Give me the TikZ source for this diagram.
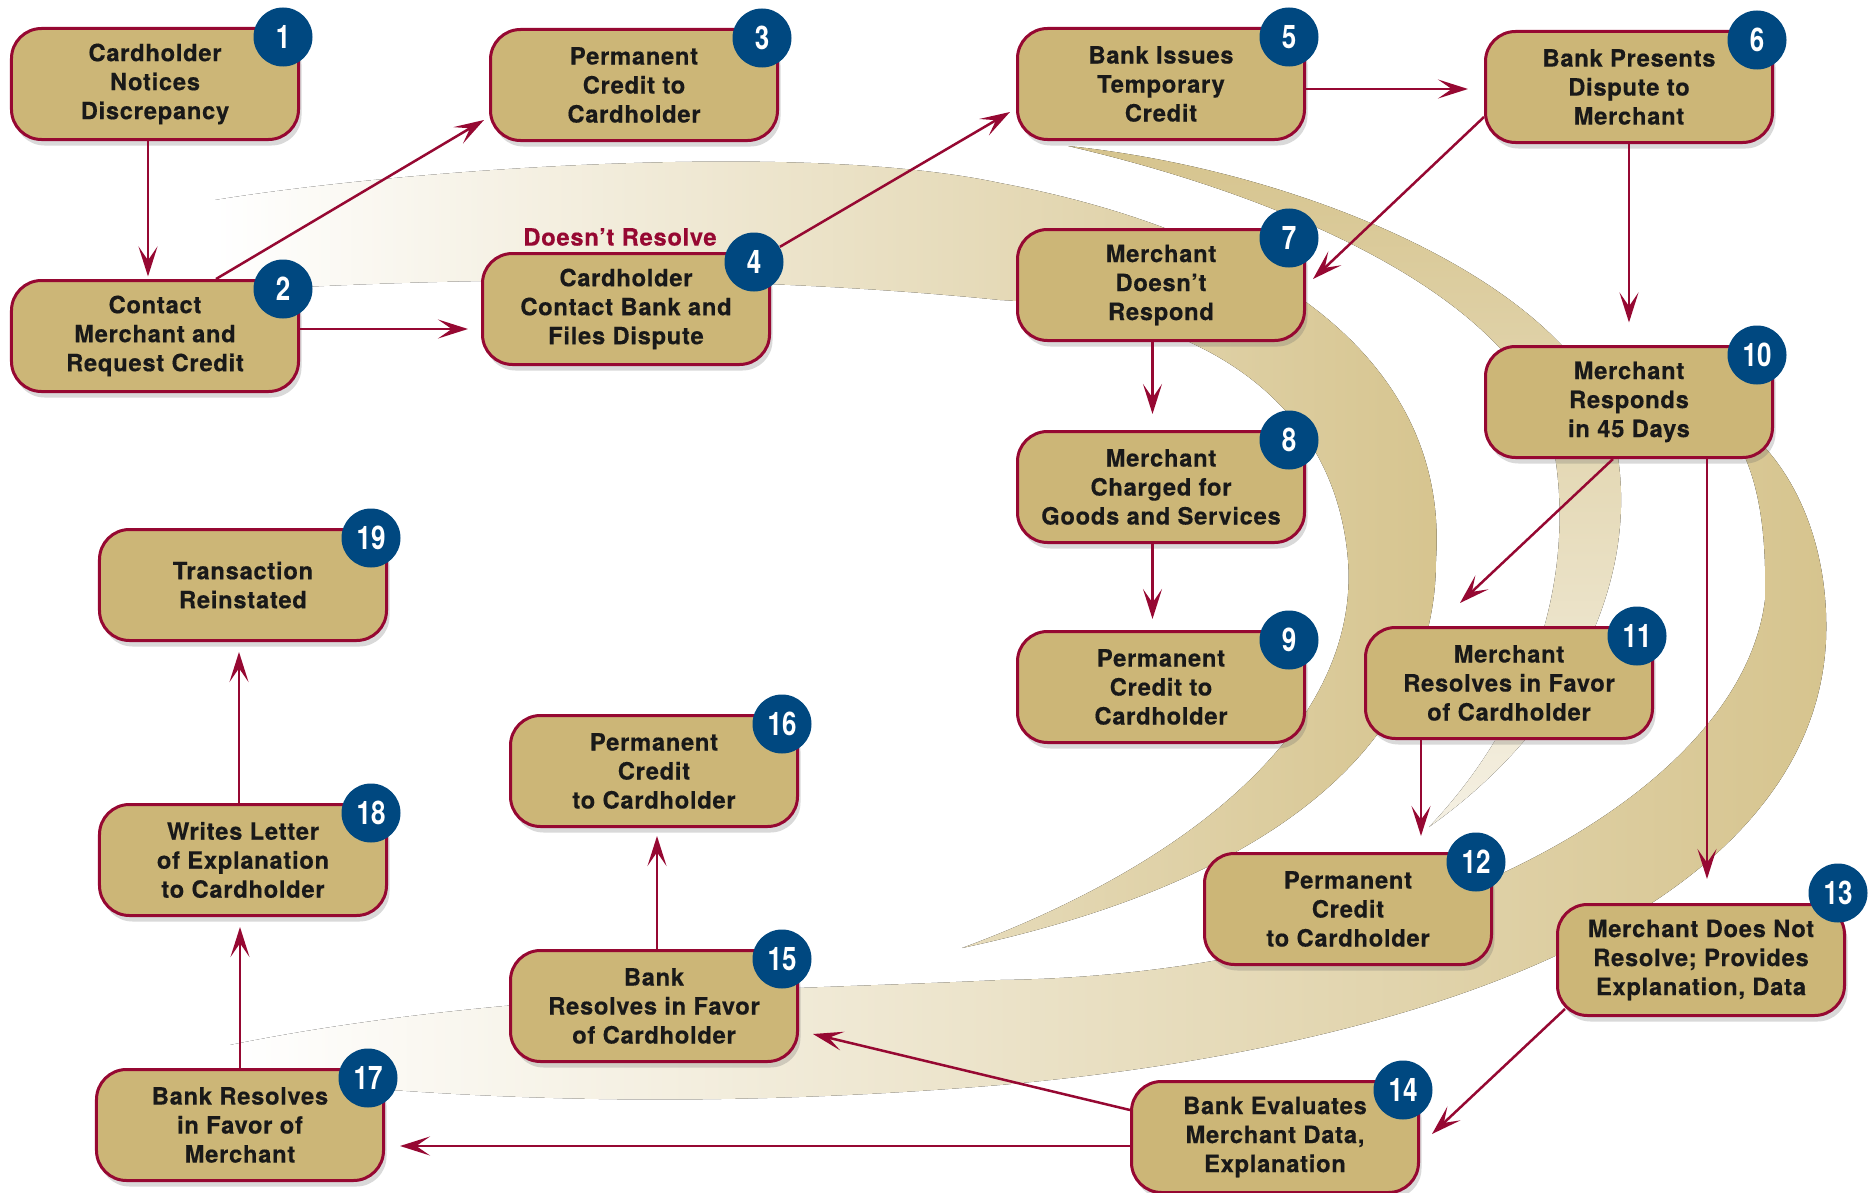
\documentclass[tikz,border=0pt]{standalone}
\usepackage{fontspec}
\setmainfont{TeX Gyre Heros}[LetterSpace=3, BoldFeatures={FakeBold=0.4}]
\newfontfamily\badgefont{TeX Gyre Heros}[FakeStretch=0.8]
\usepackage{tikz}
\usetikzlibrary{calc,arrows.meta,shadows}

\definecolor{band}{RGB}{214,196,142}
\definecolor{boxfill}{RGB}{204,182,119}
\definecolor{crimson}{RGB}{150,8,50}
\definecolor{badgeblue}{RGB}{0,72,128}

\tikzset{
  stepbox/.style={draw=crimson, line width=1.2pt, fill=boxfill, rounded corners=12pt,
    minimum width=114.8pt, minimum height=44.4pt, inner sep=0pt, align=center,
    text=black!90, font=\bfseries\fontsize{9.5}{11.6}\selectfont,
    drop shadow={shadow xshift=1.2pt, shadow yshift=-2.4pt, opacity=0.25, fill=black!60}},
  badge/.style={circle, fill=badgeblue, text=white, minimum size=23.6pt, inner sep=0pt,
    font=\badgefont\bfseries\fontsize{13}{13}\selectfont},
  flow/.style={draw=crimson, line width=1pt, -{Stealth[length=12pt,width=7.6pt,inset=5.5pt]}}
}

\begin{document}
\begin{tikzpicture}[x=0.4pt, y=-0.4pt]
  \useasboundingbox (0,0) rectangle (1876,1193);

  % background swooshes
  \fill[left color=white, right color=band]
    (215,200) .. controls (400,170) and (800,140) .. (1000,183)
    .. controls (1250,230) and (1450,350) .. (1436,560)
    .. controls (1436,740) and (1280,880) .. (962,948)
    .. controls (1200,860) and (1360,720) .. (1348,560)
    .. controls (1335,400) and (1200,310) .. (1000,300)
    .. controls (700,270) and (400,280) .. (215,292) -- cycle;
  \fill[top color=band, bottom color=band!25]
    (1068,146) .. controls (1300,170) and (1560,280) .. (1610,420)
    .. controls (1650,560) and (1580,720) .. (1429,827)
    .. controls (1540,710) and (1580,560) .. (1550,430)
    .. controls (1510,300) and (1300,200) .. (1068,146) -- cycle;
  \fill[left color=white, right color=band]
    (1700,400) .. controls (1790,440) and (1830,540) .. (1826,640)
    .. controls (1815,880) and (1500,1040) .. (1000,1085)
    .. controls (700,1110) and (450,1100) .. (230,1075)
    -- (230,1045) .. controls (500,990) and (800,990) .. (1000,980)
    .. controls (1400,975) and (1740,800) .. (1765,600)
    .. controls (1768,480) and (1740,430) .. (1700,400) -- cycle;

  % steps, top row and right column
  \node[stepbox] (s1) at (155,84) {Cardholder\\Notices\\Discrepancy};
  \node[stepbox] (s2) at (155,336) {Contact\\Merchant and\\Request Credit};
  \node[stepbox] (s3) at (634,85) {Permanent\\Credit to\\Cardholder};
  \node[stepbox] (s4) at (626,309) {Cardholder\\Contact Bank and\\Files Dispute};
  \node[stepbox] (s5) at (1161,84) {Bank Issues\\Temporary\\Credit};
  \node[stepbox] (s6) at (1629,87) {Bank Presents\\Dispute to\\Merchant};
  \node[stepbox] (s7) at (1161,285) {Merchant\\Doesn’t\\Respond};
  \node[stepbox] (s8) at (1161,487) {Merchant\\Charged for\\Goods and Services};
  \node[stepbox] (s9) at (1161,687) {Permanent\\Credit to\\Cardholder};
  \node[stepbox] (s10) at (1629,402) {Merchant\\Responds\\in 45 Days};
  \node[stepbox] (s11) at (1509,683) {Merchant\\Resolves in Favor\\of Cardholder};
  \node[stepbox] (s12) at (1348,909) {Permanent\\Credit\\to Cardholder};
  \node[stepbox] (s13) at (1701,960) {Merchant Does Not\\Resolve; Provides\\Explanation, Data};

  % steps, bottom and left
  \node[stepbox] (s14) at (1275,1137) {Bank Evaluates\\Merchant Data,\\Explanation};
  \node[stepbox] (s15) at (654,1006) {Bank\\Resolves in Favor\\of Cardholder};
  \node[stepbox] (s16) at (654,771) {Permanent\\Credit\\to Cardholder};
  \node[stepbox] (s17) at (240,1125) {Bank Resolves\\in Favor of\\Merchant};
  \node[stepbox] (s18) at (243,860) {Writes Letter\\of Explanation\\to Cardholder};
  \node[stepbox] (s19) at (243,585) {Transaction\\Reinstated};

  % step numbers
  \foreach \n in {1,...,12,14,15,...,19}
    \node[badge] (b\n) at ($(s\n.north east)+(-17,10)$) {\n};
  \node[badge] (b13) at ($(s13.north east)+(-8,-10)$) {13};

  \node[text=crimson, font=\bfseries\fontsize{9.5}{11.6}\selectfont] (dr)
    at ($(s4.north)+(-6,-15)$) {Doesn’t Resolve};

  % arrows
  \draw[flow, shorten >=1pt] ([xshift=-2.8pt]s1.south) -- ([xshift=-2.8pt]s1.south |- s2.north);
  \draw[flow] ([xshift=24.4pt]s2.north) -- ($(s3.west)+(-5,35)$);
  \draw[flow, shorten >=5.2pt] ([yshift=2.8pt]s2.east) -- ([yshift=2.8pt]s2.east -| s4.west);
  \draw[flow] (b4) -- ($(s5.west)+(-6,28)$);
  \draw[flow, shorten >=6.4pt] ([yshift=-2pt]s5.east) -- ([yshift=-2pt]s5.east -| s6.west);
  \draw[flow] ([yshift=-12pt]s6.west) -- ($(s7.east)+(7,-6)$);
  \draw[flow, shorten >=9pt] (s6.south) -- (s10.north);
  \draw[flow, shorten >=6.4pt] ([xshift=-3.4pt]s7.south) -- ([xshift=-3.4pt]s7.south |- s8.north);
  \draw[flow, shorten >=4.4pt] ([xshift=-3.4pt]s8.south) -- ([xshift=-3.4pt]s8.south |- s9.north);
  \draw[flow] ([xshift=-6.4pt]s10.south) -- ($(s11.north)+(-49,-23)$);
  \draw[flow, shorten >=9.6pt] ([xshift=31.2pt]s10.south) -- ([xshift=31.2pt]s10.south |- s13.north);
  \draw[flow, shorten >=6.4pt] ([xshift=-35.2pt]s11.south) -- ([xshift=-35.2pt]s11.south |- s12.north);
  \draw[flow] ($(s13.south west)+(9,-8)$) -- ($(s14.east)+(12,-3)$);
  \draw[flow] ([yshift=10.8pt]s14.west) -- ($(s15.east)+(14,28)$);
  \draw[flow, shorten >=6pt] ([yshift=-3.6pt]s14.west) -- ([yshift=-3.6pt]s14.west -| s17.east);
  \draw[flow, shorten >=3.2pt] ([xshift=1.2pt]s15.north) -- ([xshift=1.2pt]s15.north |- s16.south);
  \draw[flow, shorten >=4pt] (s17.north) -- (s17.north |- s18.south);
  \draw[flow, shorten >=4pt] ([xshift=-1.6pt]s18.north) -- ([xshift=-1.6pt]s18.north |- s19.south);
\end{tikzpicture}
\end{document}
